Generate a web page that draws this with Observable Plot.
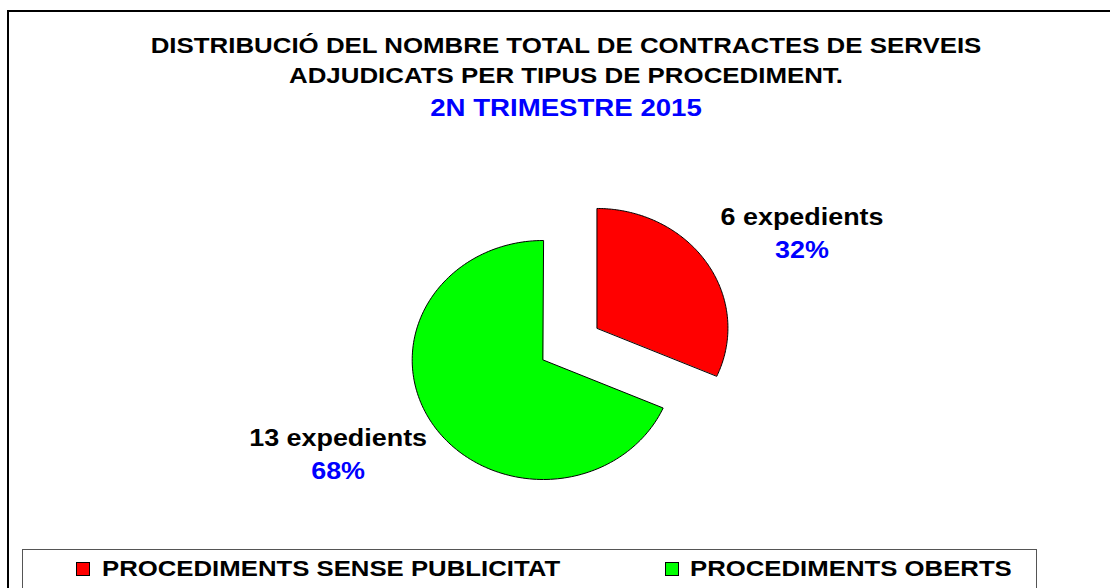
<!DOCTYPE html>
<html>
<head>
<meta charset="utf-8">
<script src="https://cdn.jsdelivr.net/npm/d3@7"></script>
<script src="https://cdn.jsdelivr.net/npm/@observablehq/plot@0.6"></script>
<style>
  html, body { margin: 0; padding: 0; background: #fff; }
  #wrap { position: relative; width: 1110px; height: 588px; overflow: hidden; font-family: "Liberation Sans", Arial, sans-serif; font-weight: bold; }
  #frame { position: absolute; left: 7px; top: 10px; width: 1120px; height: 620px; border: 2px solid #000; box-sizing: border-box; }
  .t { position: absolute; left: 0; width: 1132px; text-align: center; white-space: nowrap; transform: scaleX(1.175); transform-origin: 566px 0; }
  #chart { position: absolute; left: 0; top: 0; }
  #legend { position: absolute; left: 22px; top: 549px; width: 1015px; height: 80px; border: 1px solid #555; box-sizing: border-box; }
  .sw { position: absolute; width: 14px; height: 14px; border: 1px solid #000; box-sizing: border-box; top: 562px; }
  .lt { position: absolute; top: 558px; font-size: 22px; line-height: 22px; white-space: nowrap; transform: scaleX(1.17); transform-origin: 0 0; color: #000; }
</style>
</head>
<body>
<div id="wrap">
  <div id="frame"></div>
  <div id="chart"></div>
  <div id="legend"></div>
</div>
<script>
// ---- data ----
const titleLines = ["DISTRIBUCIÓ DEL NOMBRE TOTAL DE CONTRACTES DE SERVEIS", "ADJUDICATS PER TIPUS DE PROCEDIMENT."];
const subtitle = "2N TRIMESTRE 2015";
const categories = ["PROCEDIMENTS SENSE PUBLICITAT", "PROCEDIMENTS OBERTS"];
const counts = [6, 13];
const colors = ["#FF0000", "#00FF00"];
const exploded = [true, false];
const unitLabel = "expedients";

// ---- layout constants ----
const W = 1110, H = 588;
const cx = 542.7, cy = 359.5, rx = 131, ry = 119.5;
const explodeDist = 0.49;
const labelKx = 1.87, labelKy = 1.45;

const wrap = document.getElementById("wrap");
const total = d3.sum(counts);
const arcs = d3.pie().sort(null).value(d => d)(counts);

const polys = [];
const labels = [];
arcs.forEach((a, i) => {
  const mid = (a.startAngle + a.endAngle) / 2;
  const ox = exploded[i] ? explodeDist * Math.sin(mid) : 0;
  const oy = exploded[i] ? explodeDist * Math.cos(mid) : 0;
  polys.push({cat: categories[i], x: ox, y: oy});
  const n = 160;
  for (let k = 0; k <= n; k++) {
    const t = a.startAngle + (a.endAngle - a.startAngle) * k / n;
    polys.push({cat: categories[i], x: ox + Math.sin(t), y: oy + Math.cos(t)});
  }
  labels.push({
    x: ox + labelKx * Math.sin(mid),
    y: oy + labelKy * Math.cos(mid),
    count: `${counts[i]} ${unitLabel}`,
    pct: `${Math.round(counts[i] / total * 100)}%`
  });
});

const xDomain = [-cx / rx, (W - cx) / rx];
const yDomain = [-(H - cy) / ry, cy / ry];

const plot = Plot.plot({
  width: W, height: H,
  marginTop: 0, marginBottom: 0, marginLeft: 0, marginRight: 0,
  x: {domain: xDomain, range: [0, W], axis: null},
  y: {domain: yDomain, range: [H, 0], axis: null},
  color: {domain: categories, range: colors},
  style: {background: "transparent"},
  marks: [
    Plot.line(polys, {x: "x", y: "y", z: "cat", fill: "cat", stroke: "#000", strokeWidth: 1, curve: "linear-closed"}),
    Plot.text(labels, {x: "x", y: "y", text: "count", dy: -16, fill: "#000", fontSize: 23, fontWeight: "bold", fontFamily: "Liberation Sans, Arial, sans-serif", textAnchor: "middle", className: "lbl"}),
    Plot.text(labels, {x: "x", y: "y", text: "pct", dy: 17, fill: "#0000FF", fontSize: 23, fontWeight: "bold", fontFamily: "Liberation Sans, Arial, sans-serif", textAnchor: "middle", className: "lbl"})
  ]
});
document.getElementById("chart").appendChild(plot);

// horizontal stretch of the label text to mimic the source rendering
plot.querySelectorAll("text").forEach(el => {
  const tr = el.getAttribute("transform");
  if (tr) {
    el.setAttribute("transform", tr + " scale(1.17,1)");
  } else {
    const x = el.getAttribute("x") || 0, y = el.getAttribute("y") || 0;
    el.setAttribute("transform", `translate(${x},${y}) scale(1.17,1)`);
    el.setAttribute("x", 0); el.setAttribute("y", 0);
  }
});

// ---- titles ----
function addTitle(text, top, size, color) {
  const d = document.createElement("div");
  d.className = "t";
  d.style.top = top + "px";
  d.style.fontSize = size + "px";
  d.style.lineHeight = size + "px";
  d.style.color = color;
  d.textContent = text;
  wrap.appendChild(d);
}
addTitle(titleLines[0], 34.7, 22, "#000");
addTitle(titleLines[1], 65.4, 22, "#000");
addTitle(subtitle, 96.8, 23.5, "#0000FF");

// ---- legend ----
const legendPos = [{sw: 76, tx: 102}, {sw: 665, tx: 690}];
categories.forEach((c, i) => {
  const s = document.createElement("div");
  s.className = "sw";
  s.style.left = legendPos[i].sw + "px";
  s.style.background = colors[i];
  wrap.appendChild(s);
  const t = document.createElement("div");
  t.className = "lt";
  t.style.left = legendPos[i].tx + "px";
  t.textContent = c;
  wrap.appendChild(t);
});
</script>
</body>
</html>
